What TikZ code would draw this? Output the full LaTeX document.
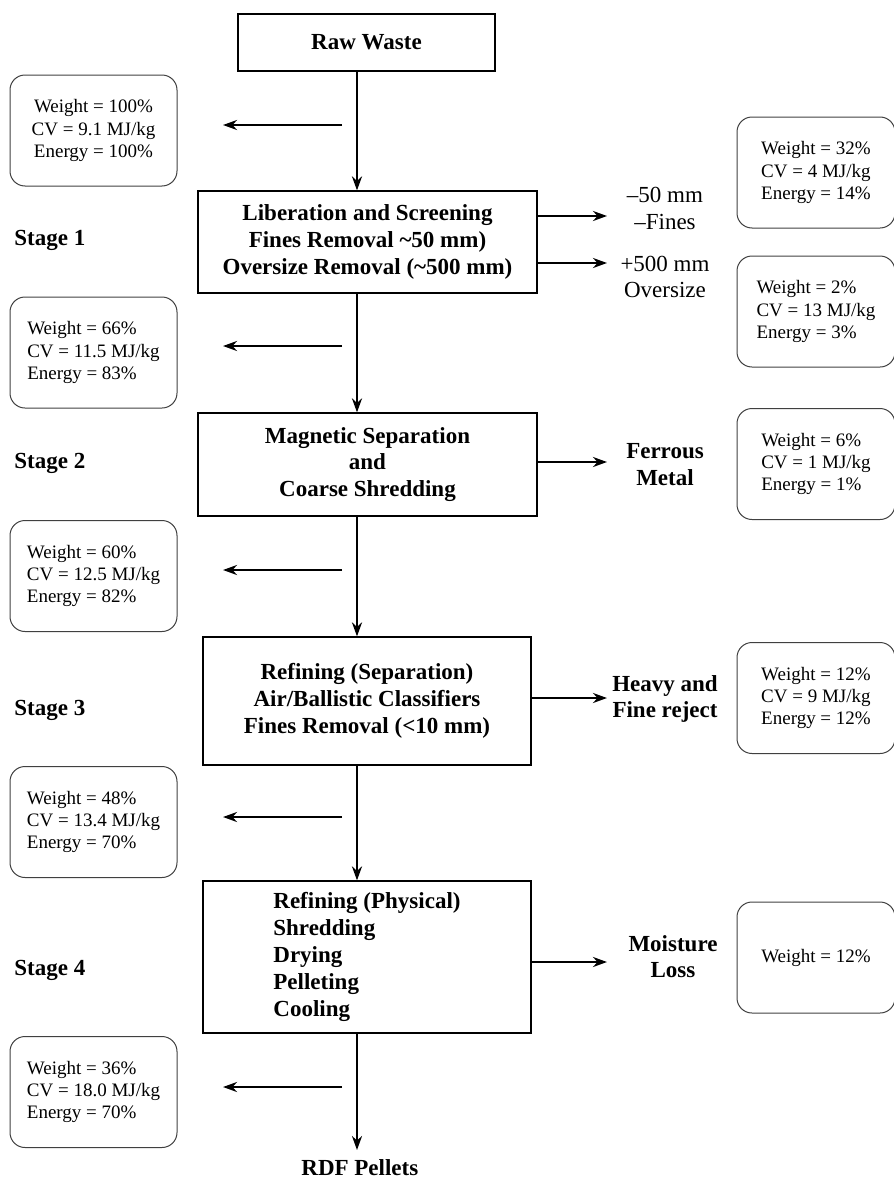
\documentclass[tikz,border=0pt]{standalone}
\usepackage{fontspec}
\setmainfont{Liberation Serif}
\usepackage{tikz}
\usetikzlibrary{shapes,positioning,arrows.meta}
\tikzset{stagebox/.style={draw,line width=0.6pt,align=center,inner sep=0pt,font=\bfseries\fontsize{11.5}{13.4}\selectfont},
         infobox/.style={draw=black!75,line width=0.5pt,rounded corners=7.5pt,minimum width=83.5pt,minimum height=55.5pt,inner sep=0pt,font=\fontsize{9.5}{11.2}\selectfont},
         outlbl/.style={align=center,inner sep=0pt,font=\fontsize{11.5}{13.2}\selectfont},
         stagelbl/.style={anchor=west,inner sep=0pt,font=\bfseries\fontsize{11.5}{13.4}\selectfont},
         flow/.style={line width=1.2pt}}

\begin{document}
\begin{tikzpicture}[x=0.5pt,y=-0.5pt,>={Stealth[length=7pt,width=5pt]}]
    \useasboundingbox (0,0) rectangle (894,1178);
    \coordinate (spine) at (357,0);

    \node[stagebox,minimum width=128.5pt,minimum height=28.5pt] (raw) at (366.5,42.5) {Raw Waste};
    \node[stagebox,minimum width=169.5pt,minimum height=51pt] (s1) at (367.5,242) {Liberation and Screening\\Fines Removal \textasciitilde50 mm)\\Oversize Removal (\textasciitilde500 mm)};
    \node[stagebox,minimum width=169.5pt,minimum height=51.5pt] (s2) at (367.5,464.5) {Magnetic Separation\\and\\Coarse Shredding};
    \node[stagebox,minimum width=164pt,minimum height=64pt] (s3) at (367,701) {Refining (Separation)\\Air/Ballistic Classifiers\\Fines Removal (<10 mm)};
    \node[stagebox,align=left,minimum width=164pt,minimum height=76pt] (s4) at (367,957) {Refining (Physical)\\Shredding\\Drying\\Pelleting\\Cooling};
    \node[stagelbl] (rdf) at (301,1168) {RDF Pellets};

    \node[stagelbl] (st1) at (14,240) {Stage 1};
    \node[stagelbl] (st2) at (14,463) {Stage 2};
    \node[stagelbl] (st3) at (14,710) {Stage 3};
    \node[stagelbl] (st4) at (14,970) {Stage 4};

    % mass balance after each stage
    \node[infobox,align=center] (m0) at (93.5,130.5) {Weight = 100\%\\CV = 9.1 MJ/kg\\Energy = 100\%};
    \node[infobox,align=left] (m1) at (93.5,352.5) {Weight = 66\%\\CV = 11.5 MJ/kg\\Energy = 83\%};
    \node[infobox,align=left] (m2) at (93.5,576) {Weight = 60\%\\CV = 12.5 MJ/kg\\Energy = 82\%};
    \node[infobox,align=left] (m3) at (93.5,822) {Weight = 48\%\\CV = 13.4 MJ/kg\\Energy = 70\%};
    \node[infobox,align=left] (m4) at (93.5,1092) {Weight = 36\%\\CV = 18.0 MJ/kg\\Energy = 70\%};

    % rejected streams
    \node[outlbl] (fines) at (665,208.5) {--50 mm\\--Fines};
    \node[outlbl] (over) at (665,277) {+500 mm\\Oversize};
    \node[outlbl,font=\bfseries\fontsize{11.5}{13.2}\selectfont] (ferr) at (665,464.5) {Ferrous\\Metal};
    \node[outlbl,font=\bfseries\fontsize{11.5}{13.2}\selectfont] (heavy) at (665,699) {Heavy and\\Fine reject};
    \node[outlbl,font=\bfseries\fontsize{11.5}{13.2}\selectfont] (moist) at (673,956.5) {Moisture\\Loss};

    \node[infobox,align=left,minimum width=79pt] (r1) at (816,172.5) {Weight = 32\%\\CV = 4 MJ/kg\\Energy = 14\%};
    \node[infobox,align=left,minimum width=79pt] (r2) at (816,311.5) {Weight = 2\%\\CV = 13 MJ/kg\\Energy = 3\%};
    \node[infobox,align=left,minimum width=79pt] (r3) at (816,464) {Weight = 6\%\\CV = 1 MJ/kg\\Energy = 1\%};
    \node[infobox,align=left,minimum width=79pt] (r4) at (816,698) {Weight = 12\%\\CV = 9 MJ/kg\\Energy = 12\%};
    \node[infobox,align=center,minimum width=79pt] (r5) at (816,957.5) {Weight = 12\%};

    \coordinate (f1) at (607,216);
    \coordinate (f2) at (607,263);
    \coordinate (f3) at (607,462);
    \coordinate (f4) at (607,698);
    \coordinate (f5) at (607,962);
    \coordinate (rdfend) at (357,1150);

    \foreach \y [count=\i] in {125,346,570,817,1087}{
        \coordinate (la\i) at (342,\y);
        \coordinate (lb\i) at (223,\y);
    }

    \draw [->,flow] (raw.south -| spine) to [] (s1.north -| spine);
    \draw [->,flow] (s1.south -| spine) to [] (s2.north -| spine);
    \draw [->,flow] (s2.south -| spine) to [] (s3.north -| spine);
    \draw [->,flow] (s3.south -| spine) to [] (s4.north -| spine);
    \draw [->,flow] (s4.south -| spine) to [] (rdfend);

    \foreach \i in {1,...,5}
        \draw [->,flow] (la\i) to [] (lb\i);

    \draw [->,flow] (s1.east |- f1) to [] (f1);
    \draw [->,flow] (s1.east |- f2) to [] (f2);
    \draw [->,flow] (s2.east |- f3) to [] (f3);
    \draw [->,flow] (s3.east |- f4) to [] (f4);
    \draw [->,flow] (s4.east |- f5) to [] (f5);
\end{tikzpicture}
\end{document}
